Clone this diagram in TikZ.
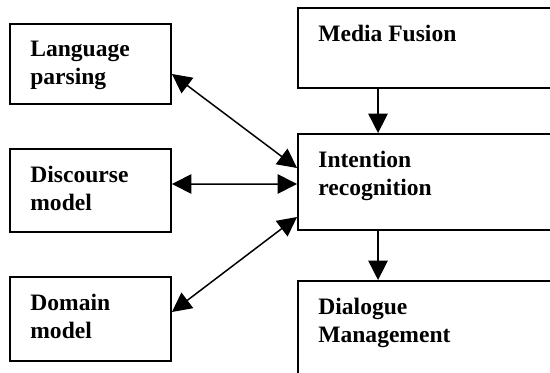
\documentclass[tikz,border=0pt]{standalone}
\usepackage{fontspec}
\setmainfont{Liberation Serif}
\usetikzlibrary{arrows.meta,fit}
\begin{document}
\begin{tikzpicture}[x=0.02cm, y=-0.02cm,
		box/.style={draw, line width=1.1pt, inner sep=0pt},
		lbl/.style={anchor=north west, inner sep=0pt, align=left, font=\fontsize{13.4pt}{15.7pt}\selectfont\bfseries},
		link/.style={line width=0.85pt, {Triangle[length=11pt,width=11pt]}-{Triangle[length=11pt,width=11pt]}},
		flow/.style={line width=0.85pt, -{Triangle[length=11pt,width=11pt]}}]
		\useasboundingbox (0,0) rectangle (550,372);
		% left column
		\node[box, fit={(10,24) (171,104)}] (lang) {};
		\node[lbl] (langtxt) at ([shift={(21,18)}]lang.north west) {Language\\parsing};
		\node[box, fit={(10,149) (171,232)}] (disc) {};
		\node[lbl] (disctxt) at ([shift={(21,18)}]disc.north west) {Discourse\\model};
		\node[box, fit={(10,277) (171,361)}] (dom) {};
		\node[lbl] (domtxt) at ([shift={(21,18)}]dom.north west) {Domain\\model};
		% right column, cut off by the page
		\node[box, fit={(298,8) (560,88)}] (media) {};
		\node[lbl] (mediatxt) at ([shift={(21,18)}]media.north west) {Media Fusion};
		\node[box, fit={(298,134) (560,230)}] (intent) {};
		\node[lbl] (intenttxt) at ([shift={(21,18)}]intent.north west) {Intention\\recognition};
		\node[box, fit={(298,281) (560,390)}] (dial) {};
		\node[lbl] (dialtxt) at ([shift={(21,18)}]dial.north west) {Dialogue\\Management};
		% connectors
		\draw[link] ([shift={(0,10)}]lang.east) -- ([shift={(0,-14)}]intent.west);
		\draw[link] ([shift={(0,-6.5)}]disc.east) -- ([shift={(0,2)}]intent.west);
		\draw[link] ([shift={(0,-7)}]dom.east) -- ([shift={(0,35)}]intent.west);
		\draw[flow] ([shift={(81,0)}]media.south west) -- ([shift={(81,0)}]intent.north west);
		\draw[flow] ([shift={(81,0)}]intent.south west) -- ([shift={(81,0)}]dial.north west);
	\end{tikzpicture}
\end{document}
